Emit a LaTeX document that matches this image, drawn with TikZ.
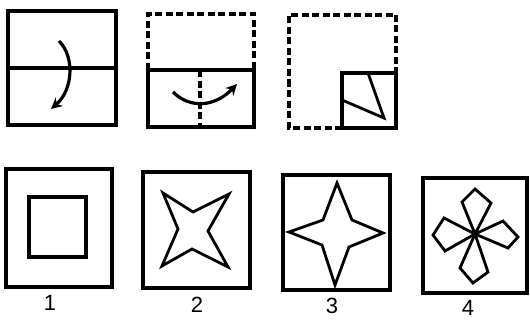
\documentclass[tikz,border=0pt]{standalone}
\usepackage{fontspec}
\setmainfont{Liberation Sans}
\usetikzlibrary{arrows.meta}
\begin{document}
\begin{tikzpicture}[x=1pt,y=-1pt,
  solidline/.style={line width=3.2pt, line join=miter},
  dashline/.style={line width=3.2pt, dash pattern=on 7pt off 3.5pt},
  thinshape/.style={line width=2.8pt, line join=miter},
  curvearrow/.style={line width=3.2pt, -{Stealth[length=11pt,width=11pt]}},
  lbl/.style={font=\fontsize{22}{22}\selectfont, inner sep=0pt}]
\useasboundingbox[fill=white] (0,0) rectangle (530,321);
% Figure 1
\draw[solidline] (8,11) rectangle (116,125);
\draw[solidline] (8,68) -- (116,68);
\coordinate (a1s) at (59,41);
\coordinate (a1e) at (51,109);
\draw[curvearrow] (a1s) .. controls (75,57) and (73,90) .. (a1e);
% Figure 2
\draw[dashline] (148,70) -- (148,14) -- (254,14) -- (254,70);
\draw[solidline] (148,70) rectangle (254,127);
\draw[dashline] (200,70) -- (200,127);
\coordinate (a2s) at (173,92);
\coordinate (a2e) at (237,84);
\draw[curvearrow] (a2s) .. controls (190,109) and (215,107) .. (a2e);
% Figure 3
\draw[dashline] (342,128) -- (289,128) -- (289,15) -- (396,15) -- (396,73);
\draw[solidline] (342,73) rectangle (396,128);
\draw[thinshape] (368,73) -- (384,118) -- (342,100);
% Option 1
\draw[solidline] (6,169) rectangle (112,287);
\draw[solidline] (29,197) rectangle (86,257);
\node[lbl] (l1) at (50,303) {1};
% Option 2
\draw[solidline] (143,172) rectangle (250,288);
\draw[thinshape] (163,193) -- (193,212) -- (229,194) -- (208,231) -- (228,267) -- (192,249) -- (162,266) -- (178,229) -- cycle;
\node[lbl] (l2) at (197,305) {2};
% Option 3
\draw[solidline] (283,175) rectangle (390,290);
\draw[thinshape] (337,183) -- (352,220) -- (383,233) -- (349,247) -- (335,285) -- (322,245) -- (289,232) -- (323,220) -- cycle;
\node[lbl] (l3) at (332,306) {3};
% Option 4
\draw[solidline] (423,178) rectangle (527,293);
\coordinate (c4) at (475,234);
\draw[thinshape] (c4) -- (462,202) -- (475,189) -- (491,203) -- cycle;
\draw[thinshape] (c4) -- (444,218) -- (433,235) -- (445,251) -- cycle;
\draw[thinshape] (c4) -- (503,221) -- (518,237) -- (508,248) -- cycle;
\draw[thinshape] (c4) -- (460,268) -- (473,283) -- (488,272) -- cycle;
\node[lbl] (l4) at (468,308) {4};
\end{tikzpicture}
\end{document}
